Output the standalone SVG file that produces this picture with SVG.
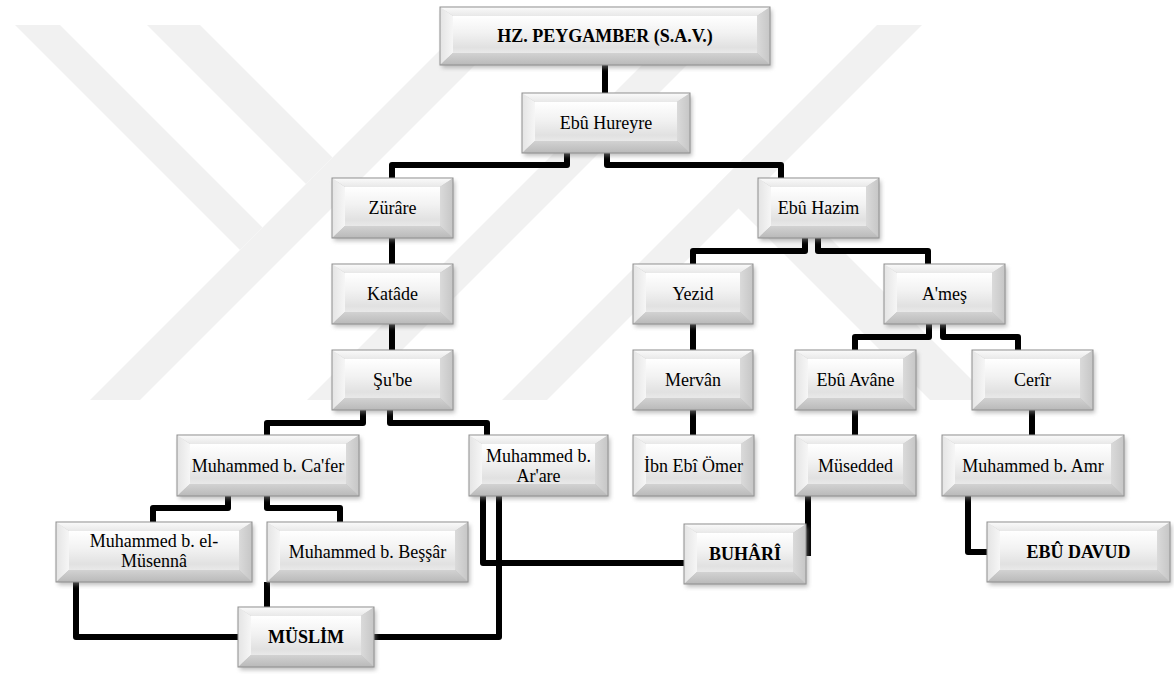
<svg xmlns="http://www.w3.org/2000/svg" xmlns:xlink="http://www.w3.org/1999/xlink" width="1174" height="674" viewBox="0 0 1174 674">
<style>
.wm{fill:#f1f1f1}
.s{fill:#8a8a8a;opacity:.55;filter:url(#ds)}
.t{fill:url(#gt)}
.l{fill:url(#gl)}
.r{fill:url(#gr)}
.b{fill:url(#gb)}
.f{fill:url(#gf)}
.k{fill:none;stroke:#8f8f8f;stroke-width:1}
.c{fill:none;stroke:#000;stroke-width:6;stroke-linejoin:round;stroke-linecap:butt}
text{font-family:"Liberation Serif","Times New Roman",serif;font-size:18px;fill:#000;text-anchor:middle}
.bd{font-weight:bold}
</style>
<defs>
<filter id="ds" x="-20%" y="-30%" width="140%" height="170%"><feGaussianBlur stdDeviation="2"/><feOffset dx="2" dy="3"/></filter>
<linearGradient id="gt" x1="0" y1="0" x2="0" y2="1"><stop offset="0" stop-color="#fbfbfb"/><stop offset="1" stop-color="#e8e8e8"/></linearGradient>
<linearGradient id="gl" x1="0" y1="0" x2="1" y2="0"><stop offset="0" stop-color="#e4e4e4"/><stop offset="1" stop-color="#f6f6f6"/></linearGradient>
<linearGradient id="gr" x1="0" y1="0" x2="1" y2="0"><stop offset="0" stop-color="#dadada"/><stop offset="1" stop-color="#c6c6c6"/></linearGradient>
<linearGradient id="gb" x1="0" y1="0" x2="0" y2="1"><stop offset="0" stop-color="#d2d2d2"/><stop offset="1" stop-color="#b9b9b9"/></linearGradient>
<linearGradient id="gf" x1="0" y1="0" x2="0" y2="1"><stop offset="0" stop-color="#ffffff"/><stop offset=".45" stop-color="#f2f2f2"/><stop offset=".85" stop-color="#e1e1e1"/><stop offset="1" stop-color="#e9e9e9"/></linearGradient>

<g id="s330x58"><rect class="s" width="330" height="58"/><polygon class="t" points="0,0 330,0 317,9 13,9"/><polygon class="l" points="0,0 13,9 13,46 0,58"/><polygon class="r" points="330,0 330,58 317,46 317,9"/><polygon class="b" points="0,58 13,46 317,46 330,58"/><rect class="f" x="13" y="9" width="304" height="37"/><rect class="k" width="330" height="58"/></g>
<g id="s168x60"><rect class="s" width="168" height="60"/><polygon class="t" points="0,0 168,0 155,9 13,9"/><polygon class="l" points="0,0 13,9 13,48 0,60"/><polygon class="r" points="168,0 168,60 155,48 155,9"/><polygon class="b" points="0,60 13,48 155,48 168,60"/><rect class="f" x="13" y="9" width="142" height="39"/><rect class="k" width="168" height="60"/></g>
<g id="s121x60"><rect class="s" width="121" height="60"/><polygon class="t" points="0,0 121,0 108,9 13,9"/><polygon class="l" points="0,0 13,9 13,48 0,60"/><polygon class="r" points="121,0 121,60 108,48 108,9"/><polygon class="b" points="0,60 13,48 108,48 121,60"/><rect class="f" x="13" y="9" width="95" height="39"/><rect class="k" width="121" height="60"/></g>
<g id="s120x60"><rect class="s" width="120" height="60"/><polygon class="t" points="0,0 120,0 107,9 13,9"/><polygon class="l" points="0,0 13,9 13,48 0,60"/><polygon class="r" points="120,0 120,60 107,48 107,9"/><polygon class="b" points="0,60 13,48 107,48 120,60"/><rect class="f" x="13" y="9" width="94" height="39"/><rect class="k" width="120" height="60"/></g>
<g id="s182x61"><rect class="s" width="182" height="61"/><polygon class="t" points="0,0 182,0 169,9 13,9"/><polygon class="l" points="0,0 13,9 13,49 0,61"/><polygon class="r" points="182,0 182,61 169,49 169,9"/><polygon class="b" points="0,61 13,49 169,49 182,61"/><rect class="f" x="13" y="9" width="156" height="40"/><rect class="k" width="182" height="61"/></g>
<g id="s139x61"><rect class="s" width="139" height="61"/><polygon class="t" points="0,0 139,0 126,9 13,9"/><polygon class="l" points="0,0 13,9 13,49 0,61"/><polygon class="r" points="139,0 139,61 126,49 126,9"/><polygon class="b" points="0,61 13,49 126,49 139,61"/><rect class="f" x="13" y="9" width="113" height="40"/><rect class="k" width="139" height="61"/></g>
<g id="s121x61"><rect class="s" width="121" height="61"/><polygon class="t" points="0,0 121,0 108,9 13,9"/><polygon class="l" points="0,0 13,9 13,49 0,61"/><polygon class="r" points="121,0 121,61 108,49 108,9"/><polygon class="b" points="0,61 13,49 108,49 121,61"/><rect class="f" x="13" y="9" width="95" height="40"/><rect class="k" width="121" height="61"/></g>
<g id="s196x60"><rect class="s" width="196" height="60"/><polygon class="t" points="0,0 196,0 183,9 13,9"/><polygon class="l" points="0,0 13,9 13,48 0,60"/><polygon class="r" points="196,0 196,60 183,48 183,9"/><polygon class="b" points="0,60 13,48 183,48 196,60"/><rect class="f" x="13" y="9" width="170" height="39"/><rect class="k" width="196" height="60"/></g>
<g id="s201x60"><rect class="s" width="201" height="60"/><polygon class="t" points="0,0 201,0 188,9 13,9"/><polygon class="l" points="0,0 13,9 13,48 0,60"/><polygon class="r" points="201,0 201,60 188,48 188,9"/><polygon class="b" points="0,60 13,48 188,48 201,60"/><rect class="f" x="13" y="9" width="175" height="39"/><rect class="k" width="201" height="60"/></g>
<g id="s122x60"><rect class="s" width="122" height="60"/><polygon class="t" points="0,0 122,0 109,9 13,9"/><polygon class="l" points="0,0 13,9 13,48 0,60"/><polygon class="r" points="122,0 122,60 109,48 109,9"/><polygon class="b" points="0,60 13,48 109,48 122,60"/><rect class="f" x="13" y="9" width="96" height="39"/><rect class="k" width="122" height="60"/></g>
<g id="s183x60"><rect class="s" width="183" height="60"/><polygon class="t" points="0,0 183,0 170,9 13,9"/><polygon class="l" points="0,0 13,9 13,48 0,60"/><polygon class="r" points="183,0 183,60 170,48 170,9"/><polygon class="b" points="0,60 13,48 170,48 183,60"/><rect class="f" x="13" y="9" width="157" height="39"/><rect class="k" width="183" height="60"/></g>
<g id="s136x60"><rect class="s" width="136" height="60"/><polygon class="t" points="0,0 136,0 123,9 13,9"/><polygon class="l" points="0,0 13,9 13,48 0,60"/><polygon class="r" points="136,0 136,60 123,48 123,9"/><polygon class="b" points="0,60 13,48 123,48 136,60"/><rect class="f" x="13" y="9" width="110" height="39"/><rect class="k" width="136" height="60"/></g>
</defs>

<rect width="1174" height="674" fill="#fff"/>
<g id="watermark">
<polygon class="wm" points="15,25 60,25 262.5,227.5 240,250"/>
<polygon class="wm" points="147,25 200,25 332.5,157.5 306,184"/>
<polygon class="wm" points="90,400 140,400 515,25 465,25"/>
<polygon class="wm" points="307,400 352,400 727,25 682,25"/>
<polygon class="wm" points="502,400 547,400 922,25 877,25"/>
<polygon class="wm" points="716,186 747,155 992,400 930,400"/>
</g>

<g id="connectors">
<path class="c" d="M605,65 V93"/>
<path class="c" d="M567,153 V165 H392 V178"/>
<path class="c" d="M607,153 V165 H781 V178"/>
<path class="c" d="M392,238 V264"/>
<path class="c" d="M392,324 V350"/>
<path class="c" d="M363,410 V423 H267 V435"/>
<path class="c" d="M390,410 V423 H487 V435"/>
<path class="c" d="M805,238 V251 H693 V264"/>
<path class="c" d="M818,238 V251 H928 V264"/>
<path class="c" d="M693,324 V350"/>
<path class="c" d="M693,410 V435"/>
<path class="c" d="M929,324 V337 H855 V350"/>
<path class="c" d="M943,324 V337 H1018 V350"/>
<path class="c" d="M855,410 V435"/>
<path class="c" d="M1032,410 V435"/>
<path class="c" d="M228,496 V508 H153 V522"/>
<path class="c" d="M267,496 V508 H340 V522"/>
<path class="c" d="M76,582 V637 H238"/>
<path class="c" d="M267,582 V607"/>
<path class="c" d="M499,496 V637 H374"/>
<path class="c" d="M483,496 V563 H684"/>
<path class="c" d="M808,496 V556"/>
<path class="c" d="M968,496 V552 H987"/>
</g>

<g id="n-hz" transform="translate(440,7)"><use href="#s330x58"/><text class="bd" x="165" y="35">HZ. PEYGAMBER (S.A.V.)</text></g>
<g id="n-hureyre" transform="translate(522,93)"><use href="#s168x60"/><text x="84" y="36">Ebû Hureyre</text></g>
<g id="n-zurare" transform="translate(332,178)"><use href="#s121x60"/><text x="60.5" y="36">Zürâre</text></g>
<g id="n-katade" transform="translate(332,264)"><use href="#s121x60"/><text x="60.5" y="36">Katâde</text></g>
<g id="n-sube" transform="translate(332,350)"><use href="#s121x60"/><text x="60.5" y="36">Şu'be</text></g>
<g id="n-hazim" transform="translate(758,178)"><use href="#s121x60"/><text x="60.5" y="36">Ebû Hazim</text></g>
<g id="n-yezid" transform="translate(633,264)"><use href="#s120x60"/><text x="60" y="36">Yezid</text></g>
<g id="n-ames" transform="translate(884,264)"><use href="#s121x60"/><text x="60.5" y="36">A'meş</text></g>
<g id="n-mervan" transform="translate(633,350)"><use href="#s120x60"/><text x="60" y="36">Mervân</text></g>
<g id="n-avane" transform="translate(795,350)"><use href="#s121x60"/><text x="60.5" y="36">Ebû Avâne</text></g>
<g id="n-cerir" transform="translate(972,350)"><use href="#s121x60"/><text x="60.5" y="36">Cerîr</text></g>
<g id="n-cafer" transform="translate(177,435)"><use href="#s182x61"/><text x="91" y="37">Muhammed b. Ca'fer</text></g>
<g id="n-arare" transform="translate(469,435)"><use href="#s139x61"/><text x="69.5" y="27">Muhammed b.</text><text x="69.5" y="47">Ar'are</text></g>
<g id="n-ibn" transform="translate(633,435)"><use href="#s121x61"/><text x="60.5" y="37">İbn Ebî Ömer</text></g>
<g id="n-musedded" transform="translate(795,435)"><use href="#s121x61"/><text x="60.5" y="37">Müsedded</text></g>
<g id="n-amr" transform="translate(942,435)"><use href="#s182x61"/><text x="91" y="37">Muhammed b. Amr</text></g>
<g id="n-musenna" transform="translate(56,522)"><use href="#s196x60"/><text x="98" y="25">Muhammed b. el-</text><text x="98" y="45">Müsennâ</text></g>
<g id="n-bessar" transform="translate(267,522)"><use href="#s201x60"/><text x="100.5" y="36">Muhammed b. Beşşâr</text></g>
<g id="n-buhari" transform="translate(684,524)"><use href="#s122x60"/><text class="bd" x="61" y="36">BUHÂRÎ</text></g>
<g id="n-davud" transform="translate(987,522)"><use href="#s183x60"/><text class="bd" x="91.5" y="36">EBÛ DAVUD</text></g>
<g id="n-muslim" transform="translate(238,607)"><use href="#s136x60"/><text class="bd" x="68" y="36">MÜSLİM</text></g>
</svg>
